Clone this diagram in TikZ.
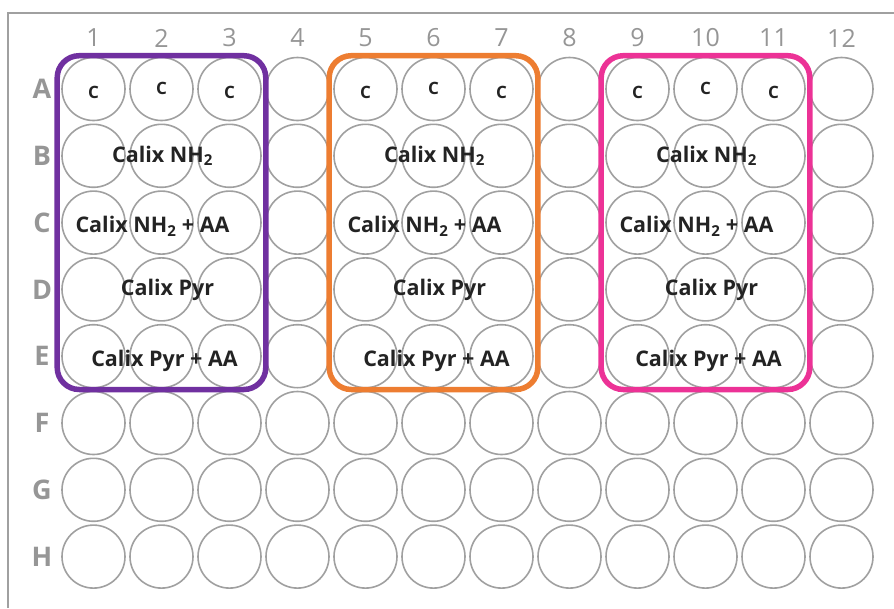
\documentclass[tikz,border=0pt]{standalone}
\usepackage{fontspec}
\setmainfont{Open Sans}
\usetikzlibrary{
    positioning,
    calc
}
\definecolor{WellGray}{RGB}{160,160,160}
\definecolor{LabelGray}{RGB}{150,150,150}
\definecolor{TextDark}{RGB}{35,35,35}
\definecolor{BoxPurple}{RGB}{112,48,160}
\definecolor{BoxOrange}{RGB}{237,125,49}
\definecolor{BoxPink}{RGB}{236,50,150}

\tikzset{
    well/.style={
        draw=WellGray,
        line width=1.6pt,
        circle,
        minimum size=63pt,
        inner sep=0pt
    },
    collabel/.style={
        text=LabelGray,
        font=\fontsize{25}{25}\selectfont
    },
    rowlabel/.style={
        text=LabelGray,
        font=\fontsize{27}{27}\selectfont\bfseries
    },
    sample/.style={
        text=TextDark,
        inner sep=0pt,
        font=\fontsize{21.5}{21.5}\selectfont\bfseries
    },
    ctrl/.style={
        text=TextDark,
        inner sep=0pt,
        font=\fontsize{17}{17}\selectfont\bfseries
    },
    groupbox/.style={
        line width=5.5pt,
        rounded corners=22pt
    }
}

\begin{document}
\begin{tikzpicture}[x=1pt, y=-1pt]

\useasboundingbox (0,0) rectangle (894,608);

% plate edge
\draw[WellGray, line width=2pt] (8,608) -- (8,13) -- (894,13);

% wells
\foreach \rw [count=\i from 0] in {A,B,C,D,E,F,G,H} {
    \node[rowlabel] (lab-\rw) at (42, {89+66.8*\i}) {\rw};
    \foreach \cl in {1,...,12} {
        \node[well] (w-\rw-\cl) at ({93.5+68*(\cl-1)}, {89+66.8*\i}) {};
    }
}
\foreach \cl in {1,...,12} {
    \node[collabel] (num-\cl) at ({93.5+68*(\cl-1)}, 38) {\cl};
}

% groups
\foreach \mid/\clr in {2/BoxPurple, 6/BoxOrange, 10/BoxPink} {
    \pgfmathtruncatemacro\lo{\mid-1}
    \pgfmathtruncatemacro\hi{\mid+1}
    \draw[groupbox, \clr]
        ($(w-A-\lo.west |- w-A-\lo.north)+(-4,-1)$) rectangle
        ($(w-E-\hi.east |- w-E-\hi.south)+(4,1)$);
    \node[ctrl] (c-\lo) at ($(w-A-\lo)+(0,3)$) {C};
    \node[ctrl] (c-\mid) at ($(w-A-\mid)+(0,-1)$) {C};
    \node[ctrl] (c-\hi) at ($(w-A-\hi)+(0,3)$) {C};
    \node[sample] (nh-\mid) at ($(w-B-\mid)+(1,0)$) {Calix NH\textsubscript{2}};
    \node[sample] (nhaa-\mid) at ($(w-C-\mid)+(-9,4)$) {Calix NH\textsubscript{2} + AA};
    \node[sample] (pyr-\mid) at ($(w-D-\mid)+(6,1)$) {Calix Pyr};
    \node[sample] (pyraa-\mid) at ($(w-E-\mid)+(3,5)$) {Calix Pyr + AA};
}

\end{tikzpicture}
\end{document}
